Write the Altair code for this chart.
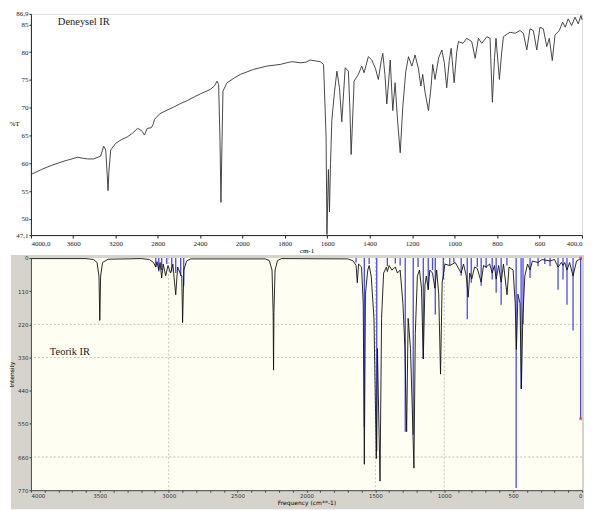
import altair as alt
import pandas as pd

# ---------------- Experimental IR (top) ----------------
exp_wn = [4000, 3900, 3811, 3720, 3651, 3557, 3500, 3462, 3406, 3340, 3311, 3292, 3278, 3270, 3262,
          3245, 3198, 3140, 3085, 3040, 2991, 2960, 2946, 2925, 2899, 2862, 2843, 2830, 2783, 2720,
          2651, 2580, 2519, 2450, 2396, 2302, 2260, 2239, 2223, 2210, 2201, 2192, 2182, 2144, 2080,
          2019, 1947, 1884, 1821, 1790, 1766, 1727, 1700, 1680, 1650, 1633, 1617, 1605, 1601, 1597,
          1594, 1589, 1584, 1578, 1565, 1554, 1542, 1531, 1522, 1515, 1500, 1493, 1487, 1480, 1473,
          1453, 1437, 1426, 1406, 1390, 1372, 1359, 1345, 1338, 1328, 1319, 1310, 1303, 1291, 1280,
          1269, 1256, 1244, 1230, 1217, 1201, 1186, 1170, 1159, 1150, 1139, 1123, 1110, 1103, 1092,
          1075, 1060, 1048, 1037, 1025, 1016, 1002, 990, 982, 960, 943, 919, 903, 888, 872,
          848, 833, 822, 812, 805, 789, 778, 770, 739, 715, 692, 676, 660, 645, 629,
          613, 598, 582, 566, 554, 540, 527, 507, 491, 479, 465, 449, 433, 418, 405, 400]
exp_t = [58.0, 58.9, 59.6, 60.2, 60.6, 61.1, 60.9, 60.8, 60.8, 61.3, 63.1, 62.4, 58.0, 55.1, 58.5,
         62.4, 63.6, 64.3, 64.8, 65.4, 66.3, 66.0, 65.7, 65.1, 66.3, 66.4, 67.0, 67.9, 68.9, 69.5,
         70.1, 70.8, 71.3, 72.0, 72.5, 73.3, 74.0, 74.8, 74.2, 64.0, 53.0, 63.0, 73.0, 74.5, 75.3,
         76.0, 76.9, 77.5, 77.8, 78.1, 78.3, 78.1, 78.2, 78.6, 78.4, 78.3, 77.8, 64.8, 47.2, 54.0,
         58.9, 51.3, 60.0, 67.7, 73.0, 76.6, 73.6, 67.5, 73.0, 77.2, 76.6, 70.0, 61.6, 68.0, 74.8,
         76.0, 77.5, 76.3, 79.2, 78.6, 77.0, 75.1, 78.5, 79.8, 76.0, 70.7, 75.0, 78.6, 69.5, 74.5,
         68.0, 61.9, 70.1, 76.5, 79.2, 77.5, 79.5, 77.0, 73.9, 76.0, 72.8, 69.5, 74.0, 77.8, 75.1,
         79.0, 80.4, 78.0, 73.6, 78.5, 80.7, 74.5, 80.0, 81.9, 81.6, 82.5, 81.9, 78.9, 82.5, 81.6,
         82.8, 82.5, 71.0, 79.0, 82.5, 75.1, 80.0, 82.8, 83.6, 83.4, 83.9, 83.4, 80.4, 84.2, 83.9,
         80.4, 84.5, 84.2, 81.0, 82.5, 78.5, 83.1, 83.9, 85.4, 84.5, 86.0, 84.8, 86.3, 85.1, 86.6, 85.8]

top_x_ticks = [4000, 3600, 3200, 2800, 2400, 2000, 1800, 1600, 1400, 1200, 1000, 800, 600, 400]
top_y_ticks = [47.1, 50, 55, 60, 65, 70, 75, 80, 85, 86.9]
top_label = ["Deneysel IR"]

# ---------------- Theoretical IR (bottom) ----------------
stick_wn = [3094, 3072, 3051, 3014, 2978, 2949, 2913, 2891,
            1640, 1580, 1545, 1490, 1413, 1355, 1320, 1283, 1225, 1190, 1152, 1116, 1085, 1065,
            1007, 960, 930, 877, 833, 804, 760, 732, 696, 652, 623, 587, 545, 478, 442, 428,
            377, 319, 270, 232, 174, 138, 109, 65, 10]
stick_int = [30, 45, 40, 20, 45, 50, 60, 92,
             15, 560, 20, 640, 27, 18, 25, 576, 586, 30, 335, 105, 40, 187,
             71, 25, 15, 59, 203, 82, 30, 92, 33, 71, 115, 155, 25, 763, 434, 220,
             66, 27, 20, 27, 105, 71, 155, 240, 533]

curve_wn = [4000, 3600, 3545, 3520, 3506, 3500, 3494, 3480, 3440, 3200, 3140, 3110, 3094, 3085, 3072,
            3062, 3051, 3040, 3022, 3005, 2986, 2970, 2949, 2935, 2913, 2905, 2899, 2890, 2870, 2840,
            2300, 2270, 2250, 2242, 2239, 2236, 2228, 2210, 2180, 1700, 1660, 1640, 1631, 1622, 1600,
            1588, 1580, 1572, 1555, 1545, 1530, 1510, 1493, 1485, 1466, 1455, 1440, 1420, 1413, 1400,
            1380, 1355, 1340, 1320, 1300, 1285, 1273, 1262, 1245, 1232, 1220, 1210, 1195, 1180, 1165,
            1152, 1140, 1130, 1116, 1105, 1085, 1068, 1055, 1040, 1027, 1015, 1007, 995, 960, 920,
            877, 860, 840, 826, 815, 800, 780, 760, 732, 715, 696, 670, 652, 636, 623,
            605, 587, 570, 544, 530, 500, 485, 476, 465, 450, 440, 430, 415, 395, 377,
            360, 319, 290, 232, 200, 174, 150, 138, 125, 109, 90, 65, 40, 20, 0]
curve_int = [2, 2, 5, 15, 60, 207, 60, 15, 4, 2, 5, 15, 30, 12, 40,
             15, 66, 20, 59, 25, 50, 20, 122, 30, 55, 60, 214, 40, 10, 3,
             3, 8, 40, 180, 372, 180, 40, 8, 2, 3, 10, 25, 82, 20, 30,
             150, 684, 120, 40, 25, 60, 200, 665, 300, 740, 200, 50, 30, 45, 25,
             40, 30, 50, 40, 150, 300, 576, 200, 300, 500, 697, 250, 60, 40, 100,
             335, 90, 60, 105, 40, 50, 100, 40, 120, 385, 80, 60, 20, 25, 15,
             50, 20, 60, 130, 50, 70, 30, 35, 80, 25, 30, 20, 50, 25, 70,
             25, 80, 20, 122, 30, 40, 150, 303, 120, 150, 434, 200, 60, 20, 40,
             10, 15, 5, 10, 5, 30, 15, 25, 15, 40, 15, 60, 10, 5, 2]

marker_wn = [10, 10]
marker_int = [0, 533]
grid_h = [220, 330, 660]
grid_v = [3000, 1500, 1000]
bot_y_ticks = [0, 110, 220, 330, 440, 550, 660, 770]
bot_x_ticks = list(range(0, 4001, 100))
bottom_label = ["Teorik IR"]

W = 553
H_TOP = 222
H_BOT = 233
SERIF = "Liberation Serif"
SANS = "DejaVu Sans"

exp_df = pd.DataFrame({"wn": exp_wn, "t": exp_t})

top_x = alt.X(
    "wn:Q",
    scale=alt.Scale(domain=[400, 2000, 4000], range=[W, 212, 0], zero=False, nice=False),
    axis=alt.Axis(values=top_x_ticks, format="d",
                  labelExpr="datum.value == 4000 ? '4000,0' : datum.value == 400 ? '400,0' : datum.label",
                  title="cm-1", titleFont=SERIF, titleFontSize=7, titleFontWeight="normal",
                  titlePadding=0, labelFont=SERIF, labelFontSize=7, labelColor="#222",
                  labelPadding=1, tickSize=3, tickColor="#222", domainColor="#222", grid=False,
                  labelOverlap=False),
)
top_y = alt.Y(
    "t:Q",
    scale=alt.Scale(domain=[47.1, 86.9], zero=False, nice=False),
    axis=alt.Axis(values=top_y_ticks,
                  labelExpr="replace(format(datum.value, ''), '.', ',')",
                  title="%T", titleAngle=0, titleX=-17, titleY=110, titleAlign="center",
                  titleBaseline="middle", titleFont=SERIF, titleFontSize=7,
                  titleFontWeight="normal", labelFont=SERIF, labelFontSize=7, labelColor="#222",
                  labelPadding=1, tickSize=2, tickColor="#222", domainColor="#222", grid=False,
                  labelOverlap=False),
)

top_line = alt.Chart(exp_df).mark_line(color="#333333", strokeWidth=0.9).encode(
    x=top_x, y=top_y, order="wn:Q")
top_text = alt.Chart(pd.DataFrame({"label": top_label})).mark_text(
    font=SERIF, fontSize=10.5, align="left", baseline="alphabetic", color="#222").encode(
    text="label:N", x=alt.value(27), y=alt.value(11))

top = alt.layer(top_line, top_text).properties(width=W, height=H_TOP)

# bottom
stick_df = pd.DataFrame({"wn": stick_wn, "int": stick_int})
stick_df["base"] = 0
curve_df = pd.DataFrame({"wn": curve_wn, "int": curve_int})
marker_df = pd.DataFrame({"wn": marker_wn, "int": marker_int})
one = pd.DataFrame({"k": [0]})

bx_scale = alt.Scale(domain=[0, 4000], reverse=True, zero=False, nice=False)
by_scale = alt.Scale(domain=[0, 770], reverse=True, zero=False, nice=False)

bot_x_axis = alt.Axis(values=bot_x_ticks, format="d",
                      labelExpr="datum.value % 500 == 0 ? datum.label : ''",
                      title="Frequency (cm**-1)", titleFont=SANS, titleFontSize=6,
                      titleFontWeight="normal", titlePadding=1, labelFont=SANS, labelFontSize=5.5,
                      labelColor="#333", labelPadding=1, tickSize=2, tickColor="#444",
                      domainColor="#444", grid=False, zindex=2, labelOverlap=False)
bot_y_axis = alt.Axis(values=bot_y_ticks, format="d", title="Intensity", titleFont=SANS,
                      titleFontSize=6, titleFontWeight="normal", titlePadding=3,
                      labelFont=SANS, labelFontSize=5.5, labelColor="#333", labelPadding=1,
                      tickSize=2, tickColor="#444", domainColor="#444", grid=False, zindex=2,
                      labelOverlap=False)

frame = alt.Chart(one).mark_rect(color="#d6d3cc").encode(
    x=alt.value(-20), x2=alt.value(W + 2), y=alt.value(-3), y2=alt.value(H_BOT + 19))
cream = alt.Chart(one).mark_rect(color="#fefef2").encode(
    x=alt.value(0), x2=alt.value(W), y=alt.value(0), y2=alt.value(H_BOT))
gh = alt.Chart(pd.DataFrame({"g": grid_h})).mark_rule(
    color="#b5b5b5", strokeDash=[2, 2], strokeWidth=0.8).encode(
    y=alt.Y("g:Q", scale=by_scale, axis=bot_y_axis))
gv = alt.Chart(pd.DataFrame({"g": grid_v})).mark_rule(
    color="#b5b5b5", strokeDash=[2, 2], strokeWidth=0.8).encode(
    x=alt.X("g:Q", scale=bx_scale, axis=bot_x_axis))
sticks = alt.Chart(stick_df).mark_rule(color="#4848ff", strokeWidth=1.3).encode(
    x=alt.X("wn:Q", scale=bx_scale, axis=bot_x_axis),
    y=alt.Y("base:Q", scale=by_scale, axis=bot_y_axis),
    y2="int:Q")
curve = alt.Chart(curve_df).mark_line(color="#111111", strokeWidth=0.9).encode(
    x=alt.X("wn:Q", scale=bx_scale, axis=bot_x_axis),
    y=alt.Y("int:Q", scale=by_scale, axis=bot_y_axis),
    order="wn:Q")
markers = alt.Chart(marker_df).mark_point(
    color="#ff3030", filled=True, size=8, shape="square").encode(
    x=alt.X("wn:Q", scale=bx_scale, axis=bot_x_axis),
    y=alt.Y("int:Q", scale=by_scale, axis=bot_y_axis))
bot_text = alt.Chart(pd.DataFrame({"label": bottom_label})).mark_text(
    font=SERIF, fontSize=10.5, align="left", baseline="alphabetic", color="#222").encode(
    text="label:N", x=alt.value(19), y=alt.value(97))

bottom = alt.layer(frame, cream, gh, gv, sticks, curve, markers, bot_text).properties(
    width=W, height=H_BOT)

chart = alt.vconcat(top, bottom, spacing=0).properties(
    padding={"left": 0, "top": 0, "right": 0, "bottom": 0}
).configure_view(stroke=None).configure(background="white")

chart.save("out.html", embed_options={"renderer": "svg", "actions": False})
